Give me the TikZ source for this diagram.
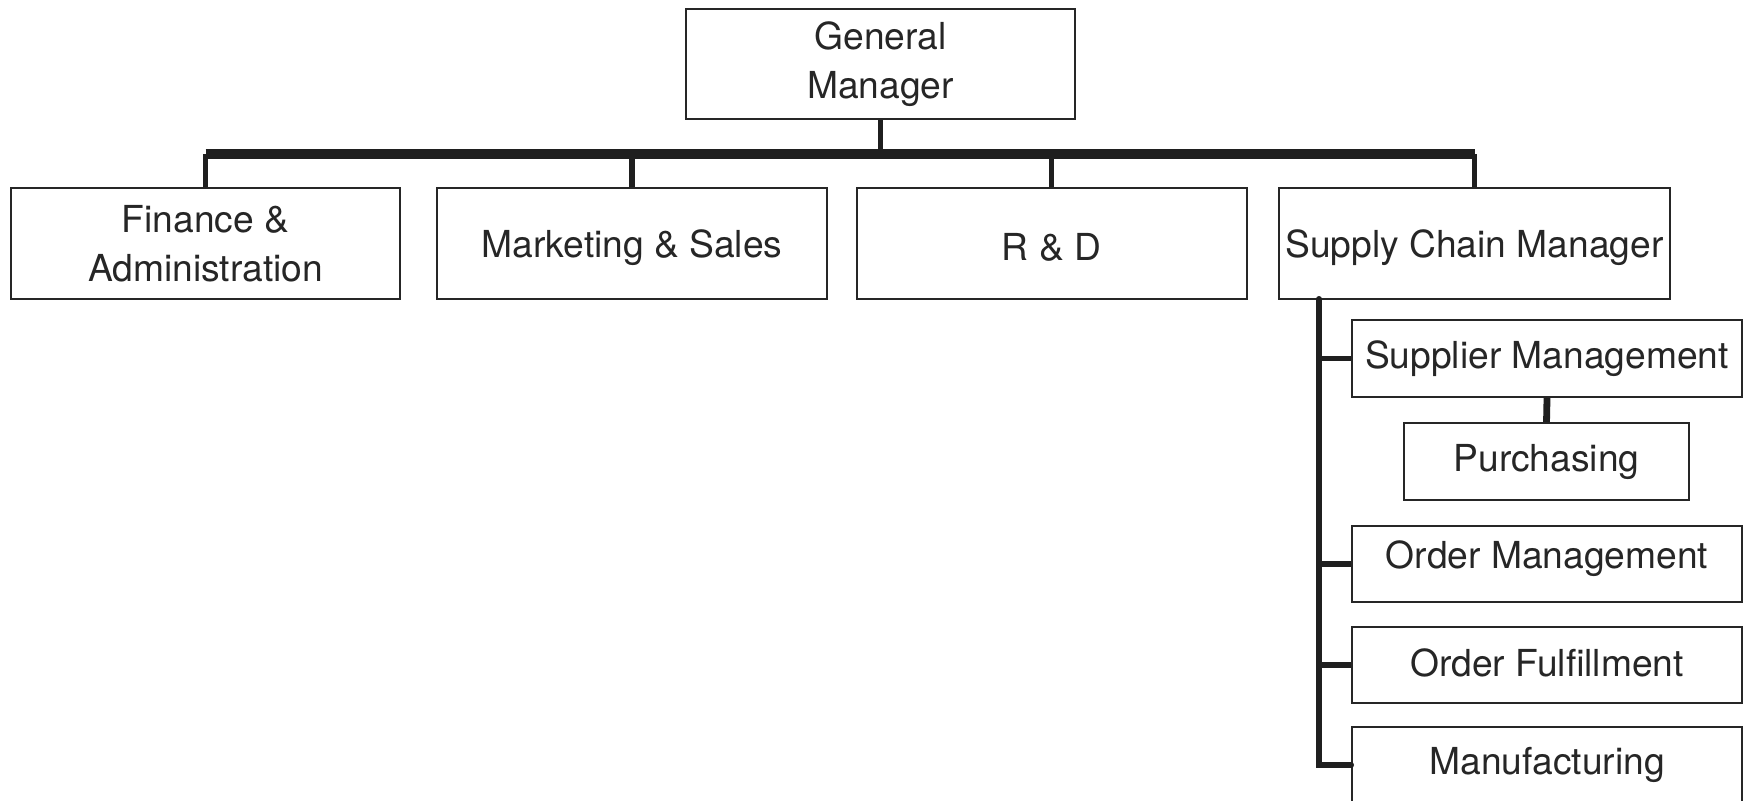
\documentclass[tikz,border=0pt]{standalone}
\usepackage{fontspec}
\setmainfont{TeX Gyre Heros}
\newcommand{\shiftedtext}[2]{\raisebox{#1}[\height][\depth]{#2}}
\begin{document}
\begin{tikzpicture}[x=0.5pt,y=-0.5pt,
  box/.style={draw=black!85, line width=1pt, inner sep=0pt, align=center,
    font=\fontsize{18.6}{24.5}\selectfont, text=black!85},
  bus/.style={line width=4.6pt, draw=black!88},
  drop/.style={line width=2.8pt, draw=black!88},
]
\clip (0,0) rectangle (1754,800);
\fill[white] (0,0) rectangle (1754,800);
% top
\node[box, minimum width=194.5pt, minimum height=55pt] (gm) at (880.5,64) {General\\Manager};
% second row
\node[box, minimum width=194.5pt, minimum height=55.5pt] (fin) at (205.5,243.5) {Finance \&\\Administration};
\node[box, minimum width=195pt, minimum height=55.5pt] (mkt) at (632,243.5) {\shiftedtext{-2pt}{Marketing \& Sales}};
\node[box, minimum width=195pt, minimum height=55.5pt] (rd) at (1051.5,243.5) {\shiftedtext{-2pt}{R \& D}};
\node[box, minimum width=195.5pt, minimum height=55.5pt] (scm) at (1474.5,243.5) {\shiftedtext{-2pt}{Supply Chain Manager}};
% supply chain column
\node[box, minimum width=195pt, minimum height=38.5pt] (sm) at (1547,358.5) {Supplier Management};
\node[box, minimum width=142.5pt, minimum height=38.5pt] (pur) at (1546.5,461.5) {Purchasing};
\node[box, minimum width=195pt, minimum height=38pt] (om) at (1547,564) {\shiftedtext{2.5pt}{Order Management}};
\node[box, minimum width=195pt, minimum height=38pt] (of) at (1547,665) {\shiftedtext{1pt}{Order Fulfillment}};
\node[box, minimum width=195pt, minimum height=38pt] (mfg) at (1547,765) {Manufacturing};
% bus
\coordinate (busy) at (0,154);
\draw[drop] (gm.south) -- (gm.south |- busy);
\draw[bus] (fin.north |- busy) -- (scm.north |- busy);
\draw[drop, line width=2.2pt] (fin.north) -- (fin.north |- busy);
\draw[drop, line width=3.2pt] (mkt.north) -- (mkt.north |- busy);
\draw[drop, line width=2.2pt] (rd.north) -- (rd.north |- busy);
\draw[drop] (scm.north) -- (scm.north |- busy);
% trunk
\coordinate (trk) at (1319,299);
\draw[drop, line width=3pt, line cap=round] (trk) -- (trk |- mfg.west) -- (mfg.west);
\draw[drop] (trk |- sm.west) -- (sm.west);
\draw[drop] (trk |- om.west) -- (om.west);
\draw[drop] (trk |- of.west) -- (of.west);
\draw[drop, line width=3.4pt] (sm.south) -- (pur.north);
\end{tikzpicture}
\end{document}
